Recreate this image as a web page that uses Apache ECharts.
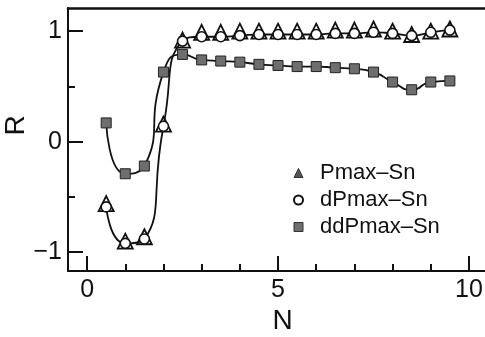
<!DOCTYPE html>
<html>
<head>
<meta charset="utf-8">
<script src="https://cdn.jsdelivr.net/npm/echarts@6/dist/echarts.min.js"></script>
<style>
  html, body { margin: 0; padding: 0; background: #fff; }
  #chart { width: 485px; height: 337px; }
</style>
</head>
<body>
<div id="chart"></div>
<script>
// Window size N and correlation R for the three Pmax–Sn measures
const nValues = [0.5, 1, 1.5, 2, 2.5, 3, 3.5, 4, 4.5, 5, 5.5, 6, 6.5, 7, 7.5, 8, 8.5, 9, 9.5];
const pmaxSn = [-0.56, -0.90, -0.86, 0.16, 0.92, 0.99, 0.99, 1.00, 1.00, 1.00, 1.00, 1.00, 1.01, 1.01, 1.02, 1.00, 0.97, 1.00, 1.02];
const dPmaxSn = [-0.59, -0.92, -0.88, 0.14, 0.91, 0.95, 0.95, 0.96, 0.97, 0.97, 0.97, 0.97, 0.98, 0.98, 0.99, 0.98, 0.96, 0.99, 1.01];
const ddPmaxSn = [0.17, -0.29, -0.22, 0.63, 0.79, 0.74, 0.73, 0.72, 0.70, 0.69, 0.68, 0.68, 0.67, 0.66, 0.63, 0.54, 0.47, 0.54, 0.55];

const xMajorTicks = [0, 5, 10];
const xMinorTicks = [1, 2, 3, 4, 6, 7, 8, 9];
const yMajorTicks = [-1, 0, 1];
const yMinorTicks = [-0.5, 0.5];

const seriesNames = ['Pmax\u2013Sn', 'dPmax\u2013Sn', 'ddPmax\u2013Sn'];

const FONT = '"Liberation Sans", Arial, Helvetica, sans-serif';
const X_MIN = -0.5, X_MAX = 10.42;
const Y_MIN = -1.17, Y_MAX = 1.21;

const pairs = ys => nValues.map((n, i) => [n, ys[i]]);
const fmt = v => (v < 0 ? '\u2212' + Math.abs(v) : String(v));

const chart = echarts.init(document.getElementById('chart'), null, { renderer: 'canvas' });

chart.setOption({
  backgroundColor: '#ffffff',
  animation: false,
  grid: { left: 68, top: 8, right: 0, bottom: 66, containLabel: false, outerBoundsMode: 'none' },
  legend: {
    orient: 'vertical',
    left: 288,
    top: 157,
    itemWidth: 9,
    itemHeight: 9,
    itemGap: 5,
    textStyle: { fontFamily: FONT, fontSize: 22, color: '#111', padding: [0, 0, 0, 12] },
    data: [
      { name: seriesNames[0], icon: 'triangle', itemStyle: { color: '#555', borderColor: '#333', borderWidth: 1 } },
      { name: seriesNames[1], icon: 'circle', itemStyle: { color: '#fff', borderColor: '#111', borderWidth: 2 } },
      { name: seriesNames[2], icon: 'rect', itemStyle: { color: '#6e6e6e', borderColor: '#333', borderWidth: 1 } }
    ]
  },
  xAxis: [
    {
      type: 'value', min: X_MIN, max: X_MAX, position: 'bottom',
      name: 'N', nameLocation: 'middle', nameGap: 36, nameMoveOverlap: false,
      nameTextStyle: { fontFamily: FONT, fontSize: 28, color: '#111', padding: [0, 0, 0, 12] },
      axisLine: { show: true, onZero: false, lineStyle: { color: '#111', width: 2 } },
      axisTick: { show: true, inside: true, length: 15, lineStyle: { color: '#111', width: 2 }, customValues: xMajorTicks },
      axisLabel: { show: true, margin: 7, fontFamily: FONT, fontSize: 25, color: '#111', customValues: xMajorTicks, formatter: fmt },
      splitLine: { show: false }
    },
    {
      type: 'value', min: X_MIN, max: X_MAX, position: 'bottom',
      axisLine: { show: false, onZero: false },
      axisTick: { show: true, inside: true, length: 7, lineStyle: { color: '#111', width: 2 }, customValues: xMinorTicks },
      axisLabel: { show: false },
      splitLine: { show: false }
    },
    {
      type: 'value', min: X_MIN, max: X_MAX, position: 'top',
      axisLine: { show: true, onZero: false, lineStyle: { color: '#111', width: 2.5 } },
      axisTick: { show: false },
      axisLabel: { show: false },
      splitLine: { show: false }
    }
  ],
  yAxis: [
    {
      type: 'value', min: Y_MIN, max: Y_MAX, position: 'left',
      name: 'R', nameLocation: 'middle', nameGap: 38, nameRotate: 90, nameMoveOverlap: false,
      nameTextStyle: { fontFamily: FONT, fontSize: 28, color: '#111', padding: [0, 0, 0, 28] },
      axisLine: { show: true, onZero: false, lineStyle: { color: '#111', width: 2 } },
      axisTick: { show: true, inside: true, length: 15, lineStyle: { color: '#111', width: 2 }, customValues: yMajorTicks },
      axisLabel: { show: true, margin: 6, fontFamily: FONT, fontSize: 25, color: '#111', customValues: yMajorTicks, formatter: fmt },
      splitLine: { show: false }
    },
    {
      type: 'value', min: Y_MIN, max: Y_MAX, position: 'left',
      axisLine: { show: false, onZero: false },
      axisTick: { show: true, inside: true, length: 7, lineStyle: { color: '#111', width: 2 }, customValues: yMinorTicks },
      axisLabel: { show: false },
      splitLine: { show: false }
    }
  ],
  series: [
    {
      name: seriesNames[0], type: 'line', xAxisIndex: 0, yAxisIndex: 0,
      data: pairs(pmaxSn),
      symbol: 'triangle', symbolSize: 15, showAllSymbol: true,
      lineStyle: { width: 0, opacity: 0 },
      itemStyle: { color: '#fff', borderColor: '#111', borderWidth: 1.8 },
      z: 2
    },
    {
      name: seriesNames[1], type: 'line', xAxisIndex: 0, yAxisIndex: 0,
      data: pairs(dPmaxSn),
      smooth: 0.6,
      symbol: 'circle', symbolSize: 10, showAllSymbol: true,
      lineStyle: { color: '#111', width: 1.8 },
      itemStyle: { color: '#fff', borderColor: '#111', borderWidth: 1.6 },
      z: 3
    },
    {
      name: seriesNames[2], type: 'line', xAxisIndex: 0, yAxisIndex: 0,
      data: pairs(ddPmaxSn),
      smooth: 0.6,
      symbol: 'rect', symbolSize: 10, showAllSymbol: true,
      lineStyle: { color: '#111', width: 1.8 },
      itemStyle: { color: '#6e6e6e', borderColor: '#222', borderWidth: 1 },
      z: 4
    }
  ]
});
</script>
</body>
</html>
